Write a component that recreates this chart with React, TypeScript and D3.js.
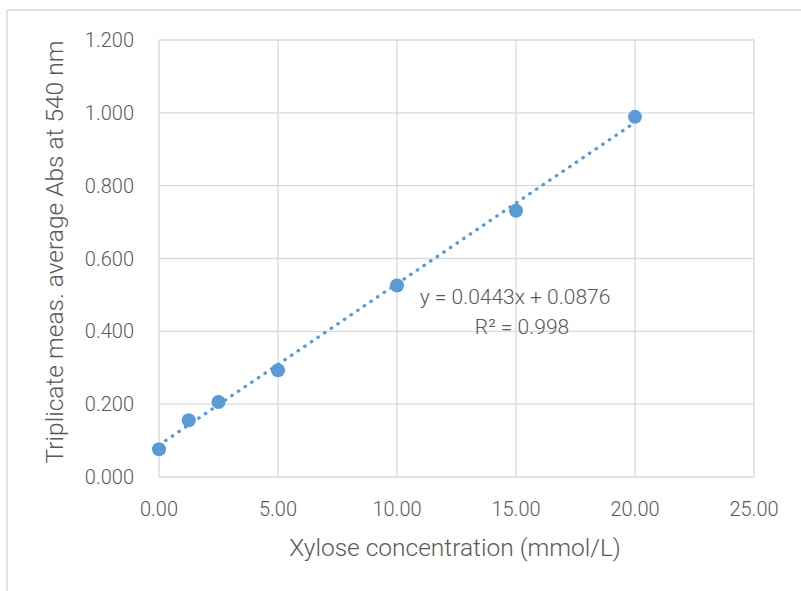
import React from 'react'
import * as d3 from 'd3'

// xylose standard curve
const concentrations = [0, 1.25, 2.5, 5, 10, 15, 20]
const absorbance = [0.076, 0.156, 0.206, 0.293, 0.526, 0.731, 0.989]
const xTicks = [0, 5, 10, 15, 20, 25]
const yTicks = [0, 0.2, 0.4, 0.6, 0.8, 1.0, 1.2]
const slope = 0.0443
const intercept = 0.0876
const rSquared = 0.998

const width = 801
const height = 591
const font = "Roboto, 'Liberation Sans', sans-serif"
const gray = '#595959'
const grid = '#d9d9d9'
const blue = '#5b9bd5'

export default function App() {
    const x = d3.scaleLinear([0, 25], [159, 754])
    const y = d3.scaleLinear([0, 1.2], [477, 40])

    const trend = d3.line<number>()
        .x(d => x(d))
        .y(d => y(slope * d + intercept))
    const first = concentrations[0]
    const last = concentrations[concentrations.length - 1]

    return (
        <svg width={width} height={height}
             style={{ position: 'absolute', left: 0, top: 0, background: '#fff' }}
             fontFamily={font}>
            {/* chart frame */}
            <line x1={7} x2={width} y1={10} y2={10} stroke={grid} strokeWidth={1.5} />
            <line x1={7} x2={7} y1={10} y2={height} stroke={grid} strokeWidth={1.5} />

            {/* gridlines */}
            {yTicks.map(t => (
                <line key={'gy' + t} x1={x(0)} x2={x(25)} y1={y(t)} y2={y(t)}
                      stroke={grid} strokeWidth={1.3} />
            ))}
            {xTicks.map(t => (
                <line key={'gx' + t} x1={x(t)} x2={x(t)} y1={y(0)} y2={y(1.2)}
                      stroke={grid} strokeWidth={1.3} />
            ))}

            {/* tick labels */}
            {yTicks.map(t => (
                <text key={'ly' + t} x={134} y={y(t)} dy="0.35em" textAnchor="end"
                      fontSize={20} fontWeight={300} fill={gray}>
                    {d3.format('.3f')(t)}
                </text>
            ))}
            {xTicks.map(t => (
                <text key={'lx' + t} x={x(t)} y={516} textAnchor="middle"
                      fontSize={20} fontWeight={300} fill={gray}>
                    {d3.format('.2f')(t)}
                </text>
            ))}

            {/* axis titles */}
            <text x={455} y={556} textAnchor="middle" fontSize={24.5} fontWeight={300} fill={gray}>
                Xylose concentration (mmol/L)
            </text>
            <text transform="translate(63,252) rotate(-90)" textAnchor="middle"
                  fontSize={24.5} fontWeight={300} fill={gray}>
                Triplicate meas. average Abs at 540 nm
            </text>

            {/* linear trendline */}
            <path d={trend([first, last]) ?? ''} fill="none" stroke={blue} strokeWidth={3.3}
                  strokeDasharray="0.5 7.5" strokeLinecap="round" />

            {/* points */}
            {concentrations.map((c, i) => (
                <circle key={'p' + i} cx={x(c)} cy={y(absorbance[i])} r={7} fill={blue} />
            ))}

            {/* equation */}
            <text x={515} y={304} textAnchor="middle" fontSize={21} fontWeight={300} fill={gray}>
                {`y = ${slope}x + ${intercept}`}
            </text>
            <text x={522} y={334} textAnchor="middle" fontSize={21} fontWeight={300} fill={gray}>
                {`R² = ${rSquared}`}
            </text>
        </svg>
    )
}
